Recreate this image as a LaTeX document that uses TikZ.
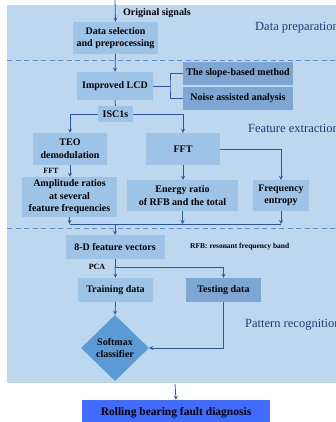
\documentclass[tikz,border=0pt]{standalone}
\usepackage{fontspec}
\setmainfont{Liberation Serif}
\usetikzlibrary{shapes.geometric}

\definecolor{panelblue}{HTML}{BDD7EE}
\definecolor{boxblue}{HTML}{9DC3E6}
\definecolor{darkblue}{HTML}{7EA6D2}
\definecolor{diablue}{HTML}{5B9BD5}
\definecolor{resultblue}{HTML}{3F6CFF}
\definecolor{linkblue}{HTML}{2E56A8}
\definecolor{dashblue}{HTML}{5B8FD6}
\definecolor{titleblue}{HTML}{1F3A7A}

\tikzset{
  box/.style={fill=boxblue, align=center, inner sep=0pt,
    font=\bfseries\fontsize{10}{12.5}\selectfont},
  darkbox/.style={box, fill=darkblue},
  label/.style={font=\bfseries\fontsize{8}{9}\selectfont, inner sep=0pt},
  title/.style={font=\fontsize{12.5}{14}\selectfont, text=titleblue, anchor=west, inner sep=0pt},
  link/.style={draw=linkblue, line width=0.8pt}
}

\begin{document}
\begin{tikzpicture}[>=stealth, x=1pt, y=-1pt]
\useasboundingbox (0,0) rectangle (336,422);

\fill[panelblue] (7,5) rectangle (336,383);
\draw[dashblue, line width=0.8pt, dash pattern=on 5pt off 3.5pt] (7,60)--(336,60);
\draw[dashblue, line width=0.8pt, dash pattern=on 5pt off 3.5pt] (7,228)--(336,228);

\node[title] (prep) at (255,28) {Data preparation};
\node[title] (extr) at (248,128) {Feature extraction};
\node[title] (recog) at (245,325) {Pattern recognition};

% data preparation
\coordinate (signal) at (115,0);
\node[box, anchor=west, fill=none] (orig) at (123,13) {Original signals};
\node[box, minimum width=85pt, minimum height=32pt] (datasel) at (115.5,38) {Data selection\\and preprocessing};

% feature extraction
\node[box, minimum width=76pt, minimum height=28pt] (lcd) at (115,86) {Improved LCD};
\node[darkbox, minimum width=110pt, minimum height=23pt] (slope) at (238,73.5) {The slope-based method};
\node[darkbox, minimum width=110pt, minimum height=23pt] (noise) at (238,98.5) {Noise assisted analysis};
\coordinate (fork) at (170,86);
\node[box, minimum width=35pt, minimum height=16pt] (isc) at (115.5,114) {ISC1s};
\node[box, minimum width=74pt, minimum height=32pt] (teo) at (70,149) {TEO\\demodulation};
\node[box, minimum width=74pt, minimum height=32pt] (fft) at (183,149) {FFT};
\node[box, minimum width=95pt, minimum height=40pt] (amp) at (69.5,197) {Amplitude ratios\\at several\\feature frequencies};
\node[box, minimum width=111pt, minimum height=31pt] (energy) at (182.5,195.5) {Energy ratio\\of RFB and the total};
\node[box, minimum width=56pt, minimum height=31pt] (entropy) at (281,195.5) {Frequency\\entropy};
\node[label] (fftlab) at (51,171) {FFT};
\coordinate (merge) at (115,224);

% pattern recognition
\node[box, minimum width=99pt, minimum height=24pt] (feat) at (115,247) {8-D feature vectors};
\node[label, font=\bfseries\fontsize{7.5}{8}\selectfont, anchor=west] (rfb) at (190,247) {RFB: resonant frequency band};
\coordinate (split) at (115,267);
\node[label] (pca) at (97,267) {PCA};
\node[box, minimum width=75pt, minimum height=24pt] (train) at (115.5,290) {Training data};
\node[darkbox, minimum width=75pt, minimum height=24pt] (test) at (223.5,290) {Testing data};
\node[box, fill=diablue, diamond, aspect=1, minimum width=68pt, minimum height=66pt] (softmax) at (115,348) {Softmax\\classifier};

\coordinate (panelout) at (175,384);
\node[box, fill=resultblue, minimum width=188pt, minimum height=26pt, font=\bfseries\fontsize{11.5}{13}\selectfont] (result) at (176,413) {Rolling bearing fault diagnosis};

% connectors
\draw[link, ->] (signal) -- (datasel.north);
\draw[link, ->] (datasel.south) -- (lcd.north);
\draw[link] (lcd.east) -- (fork);
\draw[link] (slope.west) -| (fork) |- (noise.west);
\draw[link] (lcd.south) -- (isc.north);
\draw[link, ->] (isc.west) -| (teo.north);
\draw[link, ->] (isc.east) -| (fft.north);
\draw[link, ->] (teo.south) -- (amp.north -| teo.south);
\draw[link, ->] (fft.south) -- (energy.north -| fft.south);
\draw[link, ->] (fft.east) -| (entropy.north);
\draw[link, ->] (amp.south) -- (amp.south |- merge);
\draw[link, ->] (energy.south) -- (energy.south |- merge);
\draw[link, ->] (entropy.south) -- (entropy.south |- merge);
\draw[link] (amp.south |- merge) -- (entropy.south |- merge);
\draw[link, ->] (merge) -- (feat.north);
\draw[link] (feat.south) -- (split);
\draw[link, ->] (split) -- (train.north);
\draw[link, ->] (split) -| (test.north);
\draw[link, ->] (train.south) -- (softmax.north);
\draw[link, ->] (test.south) |- (softmax.east);
\draw[link, ->] (panelout) -- (result.north);

\end{tikzpicture}
\end{document}
